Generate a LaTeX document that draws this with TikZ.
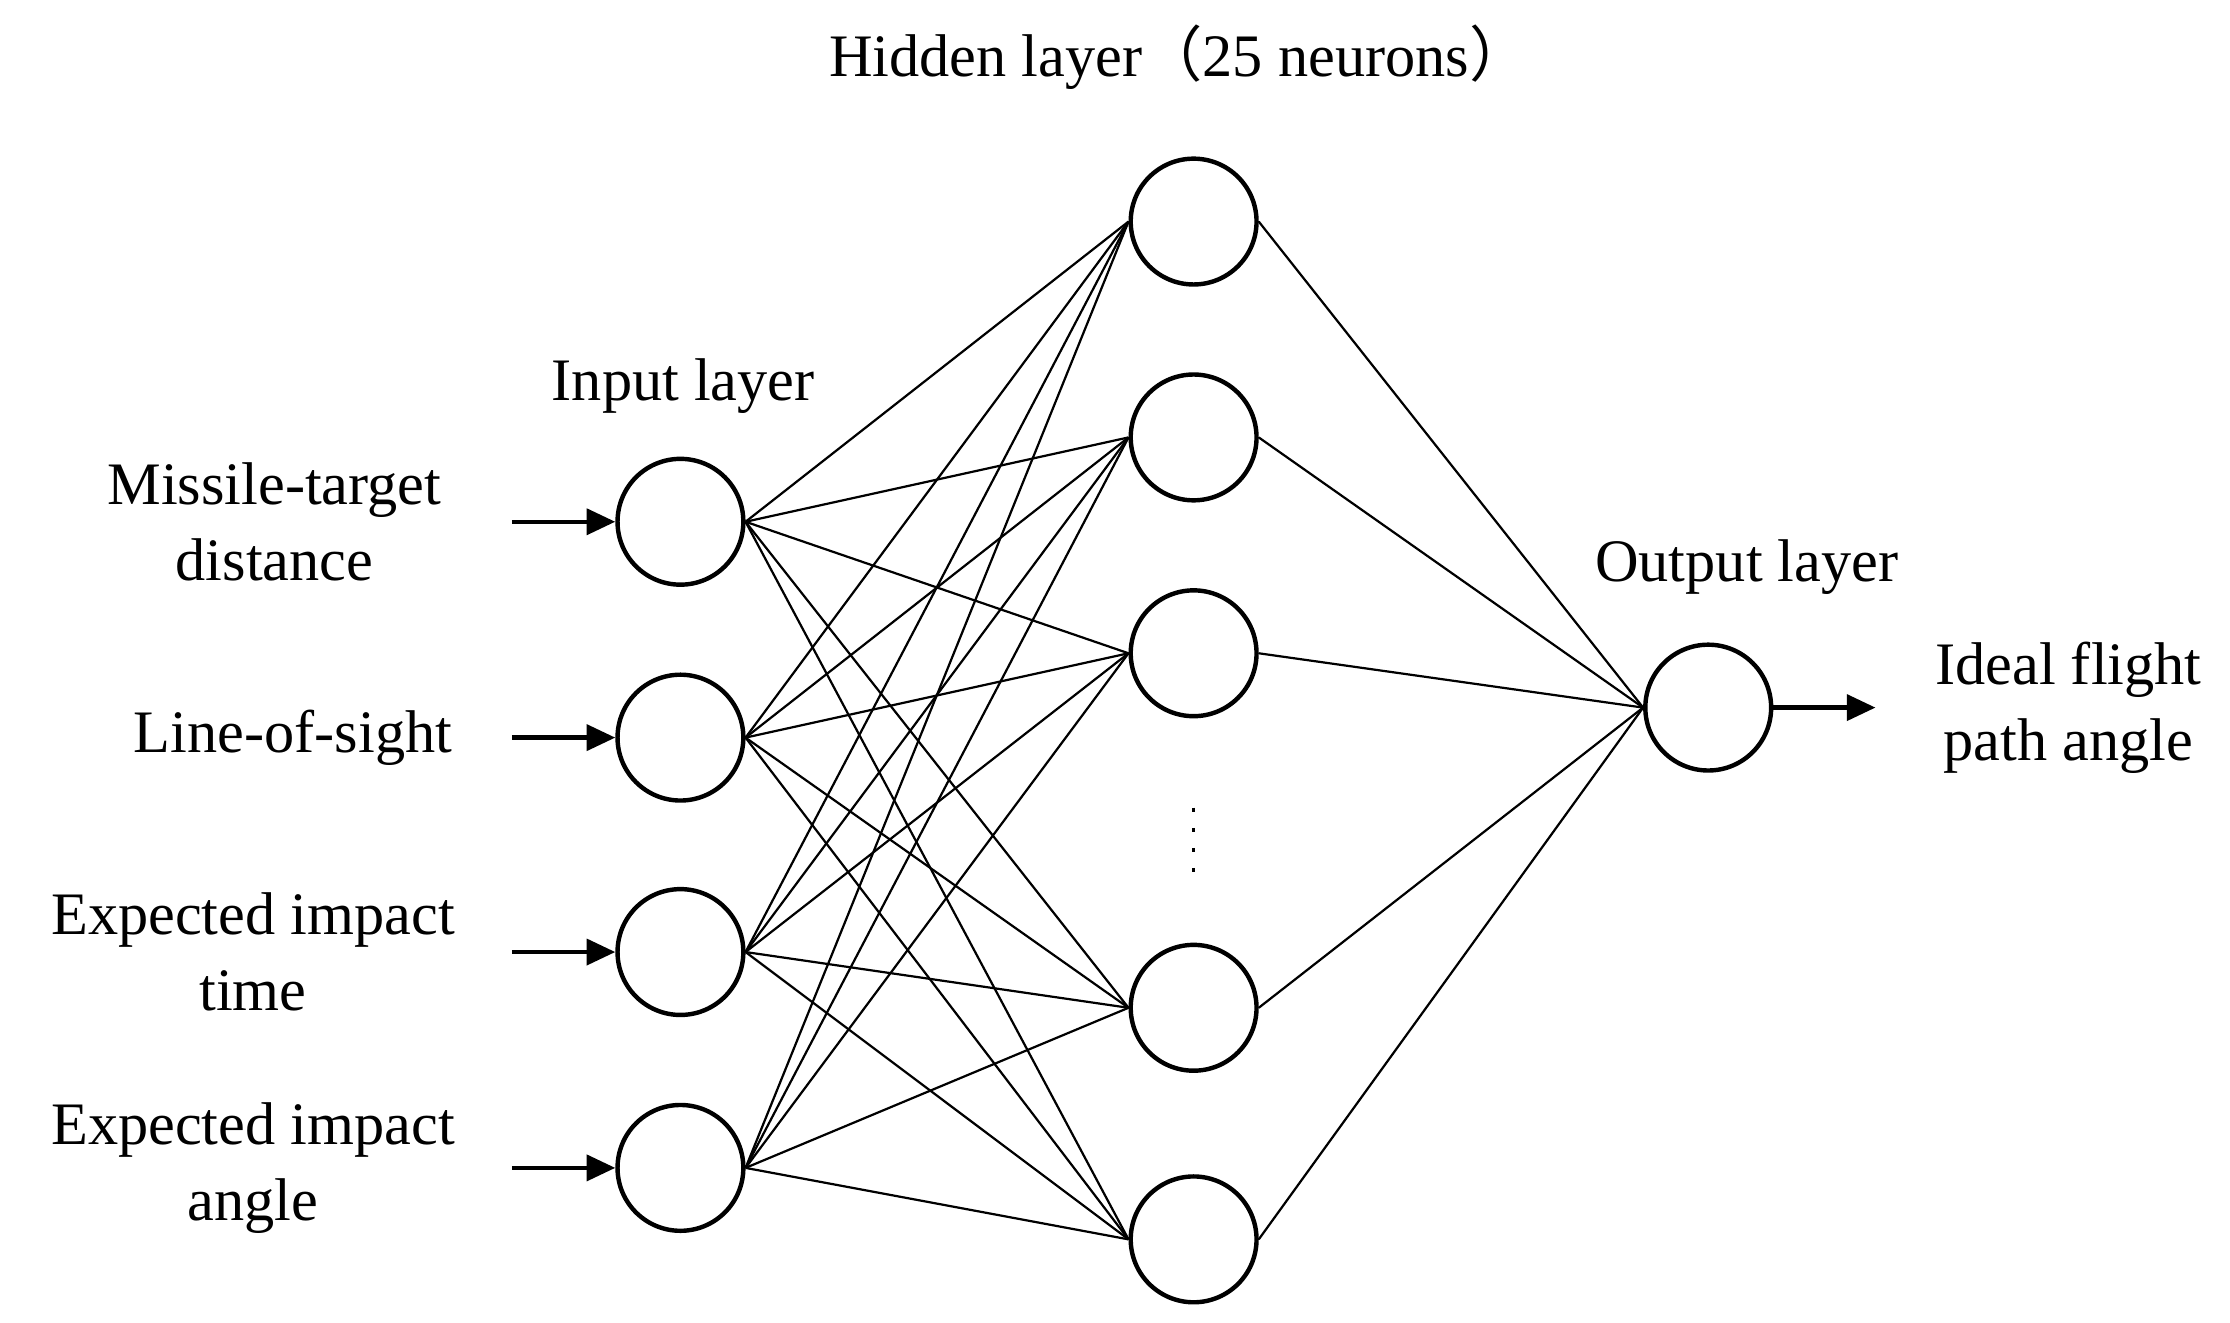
\documentclass[tikz,border=0pt]{standalone}
\usepackage{fontspec}
\setmainfont{Liberation Serif}
\newfontfamily\cjk{Noto Sans CJK SC}
\usetikzlibrary{arrows.meta}
\begin{document}
\begin{tikzpicture}[x=0.025cm,y=-0.025cm,
  neuron/.style={circle,draw,line width=2.2pt,minimum size=2.2cm,inner sep=0pt},
  conn/.style={line width=1.1pt},
  inarr/.style={line width=2.2pt,-{Triangle[length=0.5cm,width=0.45cm]}},
  lbl/.style={font=\fontsize{30}{38}\selectfont,align=center}]
\useasboundingbox (0,0) rectangle (1560,925);
\foreach \i/\y in {1/365,2/516,3/666,4/817}{\node[neuron] (i\i) at (476,\y) {};}
\foreach \i/\y in {1/155,2/306,3/457,4/705,5/867}{\node[neuron] (h\i) at (835,\y) {};}
\node[neuron] (o) at (1195,495) {};
\foreach \i in {1,...,4}{\foreach \j in {1,...,5}{\draw[conn] (i\i.east) -- (h\j.west);}}
\foreach \j in {1,...,5}{\draw[conn] (h\j.east) -- (o.west);}
\draw[line width=1.2pt,dash pattern=on 2pt off 8pt] (835,565) -- (835,612);
\node[lbl] (t1) at (192,365) {Missile-target\\distance};
\node[lbl] (t2) at (205,516) {Line-of-sight};
\node[lbl] (t3) at (177,666) {Expected impact\\time};
\node[lbl] (t4) at (177,817) {Expected impact\\angle};
\foreach \i/\y in {1/365,2/516,3/666,4/817}{\coordinate (s\i) at (358,\y); \draw[inarr] (s\i) -- (i\i);}
\coordinate (oe) at (1312,495);
\draw[inarr] (o) -- (oe);
\node[lbl] (li) at (478,270) {Input layer};
\node[lbl] (lh) at (825,40) {Hidden layer{\cjk （}25 neurons{\cjk ）}};
\node[lbl] (lo) at (1222,397) {Output layer};
\node[lbl] (lout) at (1447,495) {Ideal flight\\path angle};
\end{tikzpicture}
\end{document}
